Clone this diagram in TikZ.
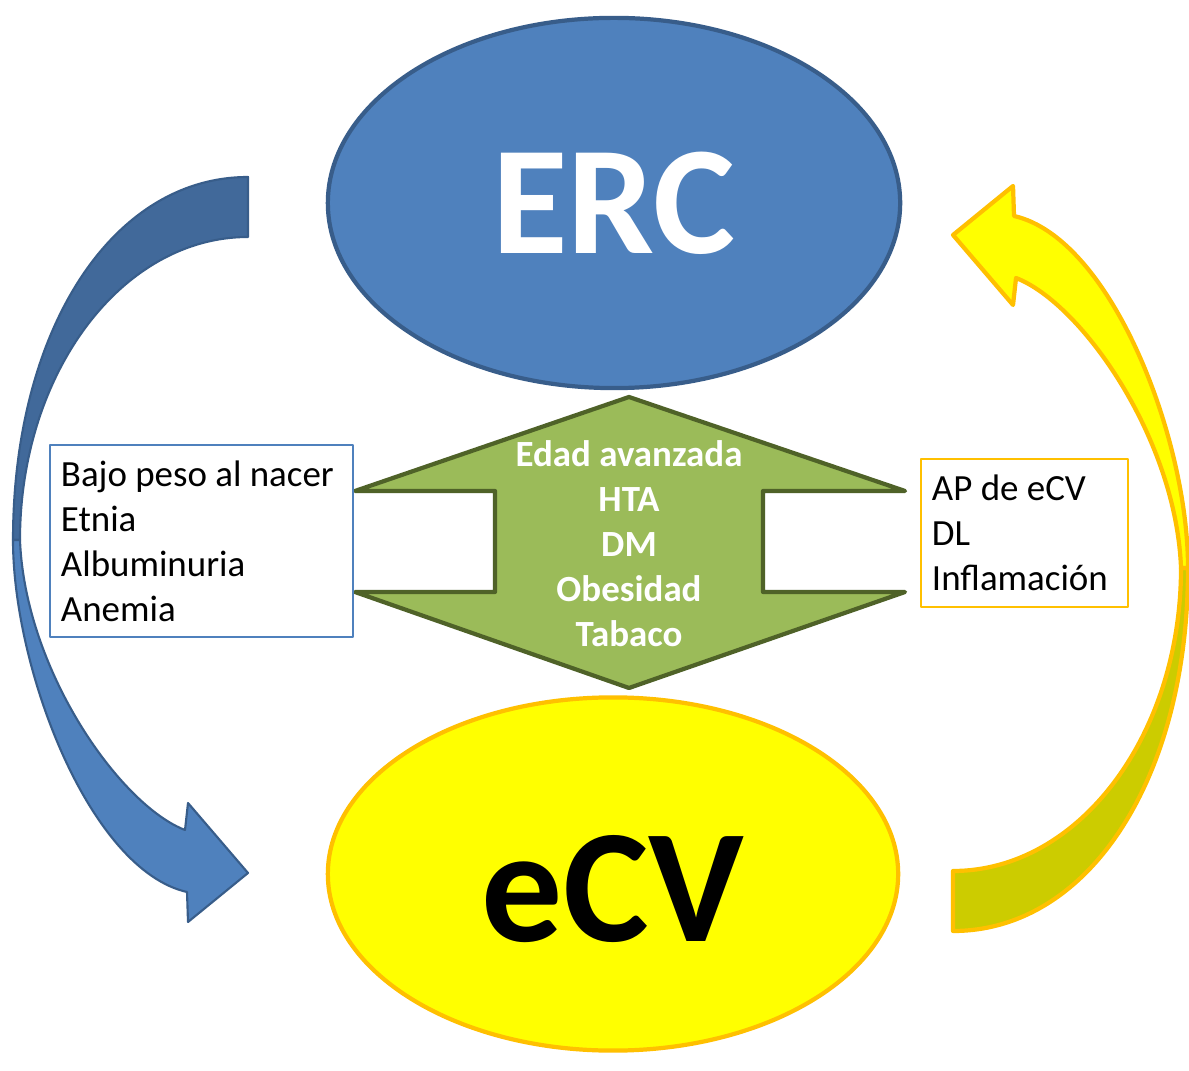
\documentclass[tikz,border=0pt]{standalone}
\usepackage{fontspec}
\setmainfont{Carlito}
\usepackage{tikz}
\usetikzlibrary{shapes.geometric}

\definecolor{ercblue}{HTML}{4F81BD}
\definecolor{ercline}{HTML}{385D8A}
\definecolor{backblue}{HTML}{41699A}
\definecolor{ecvyellow}{HTML}{FFFF00}
\definecolor{ecvline}{HTML}{FFC000}
\definecolor{backyellow}{HTML}{CCCC00}
\definecolor{riskgreen}{HTML}{9BBB59}
\definecolor{riskline}{HTML}{4F6228}

\begin{document}
\begin{tikzpicture}[x=0.01cm, y=0.01cm, line join=round,
    big/.style={ellipse, inner sep=0pt, line width=1.2pt},
    riskbox/.style={draw, fill=white, align=flush left, line width=0.6pt, inner xsep=0.11cm,
      font=\fontsize{10.5}{12.8}\selectfont}]
  \useasboundingbox[fill=white] (0,0) rectangle (1189,1070);

  % Blue curved arrow, from ERC down to eCV
  \filldraw[backblue, draw=ercline, line width=0.6pt] (248,893) .. controls (112,893) and (13,740) .. (13,530)
    -- (20,530) .. controls (20,697) and (122,833) .. (248,833) -- cycle;
  \filldraw[ercblue, draw=ercline, line width=0.6pt] (13,530) .. controls (13,400) and (90,200) .. (187,178)
    -- (188,148) -- (248,197) -- (188,267) -- (185,240)
    .. controls (120,265) and (25,400) .. (20,530) -- cycle;

  % Yellow curved arrow, from eCV back up to ERC
  \begin{scope}[rotate around={180:(600.5,516)}]
    \filldraw[backyellow, draw=ecvline, line width=1.2pt] (248,893) .. controls (112,893) and (13,740) .. (13,530)
      -- (20,530) .. controls (20,697) and (122,833) .. (248,833) -- cycle;
    \filldraw[ecvyellow, draw=ecvline, line width=1.2pt] (13,530) .. controls (13,400) and (90,200) .. (187,178)
      -- (188,148) -- (248,197) -- (188,267) -- (185,240)
      .. controls (120,265) and (25,400) .. (20,530) -- cycle;
  \end{scope}

  % The two diseases
  \node[big, fill=ercblue, draw=ercline, text=white, minimum width=5.72cm, minimum height=3.70cm,
    font=\bfseries\fontsize{44}{44}\selectfont] (ERC) at (614,867) {ERC};
  \node[big, fill=ecvyellow, draw=ecvline, text=black, minimum width=5.70cm, minimum height=3.53cm,
    font=\bfseries\fontsize{46}{46}\selectfont, text height=39pt] (eCV) at (613,196) {eCV};

  % Shared risk factors (double arrow)
  \filldraw[riskgreen, draw=riskline, line width=1.2pt] (629,673) -- (355,579) -- (495,579) -- (495,478)
    -- (355,478) -- (629,382) -- (905,478) -- (763,478) -- (763,579) -- (905,579) -- cycle;
  \node[text=white, align=center, font=\bfseries\fontsize{10.5}{12.8}\selectfont] (common) at (629,526)
    {Edad avanzada\\HTA\\DM\\Obesidad\\Tabaco};

  % Specific risk factors
  \node[riskbox, draw=ercblue, text width=2.81cm, minimum height=1.92cm] (renal) at (201.5,529)
    {Bajo~peso~al~nacer\\Etnia\\Albuminuria\\Anemia};
  \node[riskbox, draw=ecvline, text width=1.85cm, minimum height=1.48cm] (cardio) at (1024.5,537)
    {AP de eCV\\DL\\Inflamación};
\end{tikzpicture}
\end{document}
